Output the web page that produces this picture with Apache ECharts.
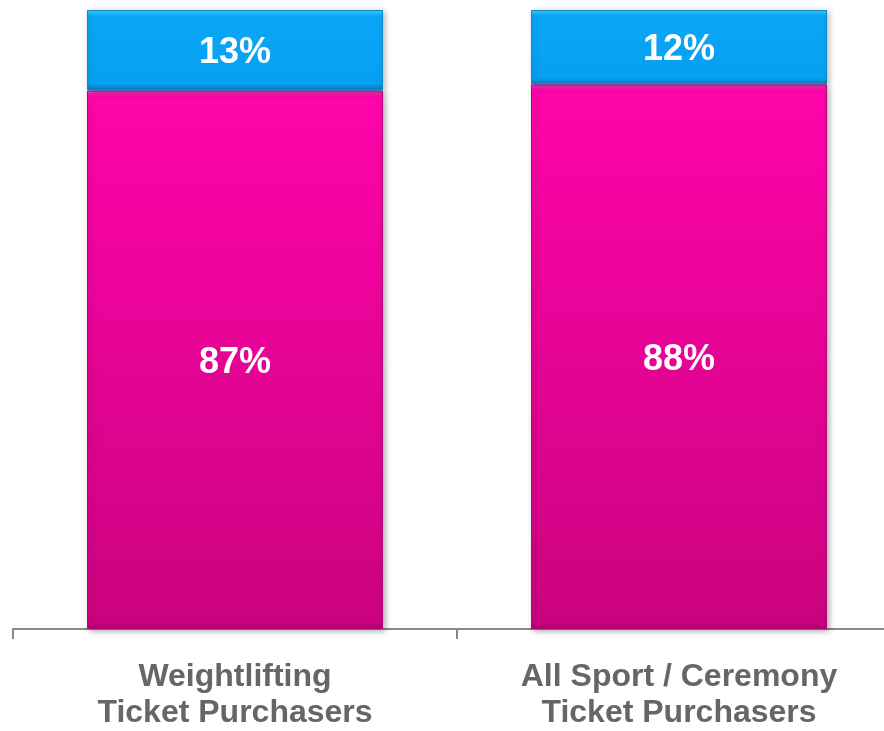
<!DOCTYPE html>
<html>
<head>
<meta charset="utf-8">
<script src="https://cdn.jsdelivr.net/npm/echarts@6/dist/echarts.min.js"></script>
<style>
  html, body { margin: 0; padding: 0; background: #fff; overflow: hidden; }
  /* canvas runs past the right edge so the axis continues off-page */
  #chart { width: 901px; height: 731px; }
</style>
</head>
<body>
<div id="chart"></div>
<script>
// Categories and shares (percent) for each group
const categories = ['Weightlifting\nTicket Purchasers', 'All Sport / Ceremony\nTicket Purchasers'];
const bottomShare = [87, 88];
const topShare = [13, 12];

const chart = echarts.init(document.getElementById('chart'));

// vertical gradient with bright top edge and darker bottom edge (bevel look)
function bevel(edgeLight, top, bottom, edgeDark, edge) {
  return {
    type: 'linear', x: 0, y: 0, x2: 0, y2: 1,
    colorStops: [
      { offset: 0, color: edgeLight },
      { offset: edge, color: top },
      { offset: 1 - edge, color: bottom },
      { offset: 1, color: edgeDark }
    ]
  };
}

const labelStyle = {
  show: true,
  position: 'inside',
  offset: [0, 3],
  color: '#ffffff',
  fontFamily: 'Liberation Sans, Arial, sans-serif',
  fontWeight: 'bold',
  fontSize: 36,
  formatter: p => p.value + '%'
};

chart.setOption({
  animation: false,
  grid: { left: 13, right: 0, top: 10, bottom: 98, containLabel: false },
  xAxis: {
    type: 'category',
    data: categories,
    axisLine: { show: true, lineStyle: { color: '#888888', width: 2 } },
    axisTick: { show: true, length: 10, lineStyle: { color: '#888888', width: 2 } },
    axisLabel: {
      color: '#666666',
      fontFamily: 'Liberation Sans, Arial, sans-serif',
      fontWeight: 'bold',
      fontSize: 32,
      lineHeight: 36,
      margin: 30
    }
  },
  yAxis: {
    type: 'value',
    min: 0,
    max: 100,
    show: false,
    splitLine: { show: false }
  },
  series: [
    {
      name: 'Bottom',
      type: 'bar',
      stack: 'total',
      barWidth: 296,
      data: bottomShare,
      label: labelStyle,
      itemStyle: {
        color: bevel('#ff3cc4', '#ff04aa', '#cb037f', '#a8026a', 0.012),
        borderColor: '#b8047a',
        borderWidth: 1,
        shadowColor: 'rgba(0,0,0,0.3)',
        shadowBlur: 6,
        shadowOffsetX: 2,
        shadowOffsetY: 2
      }
    },
    {
      name: 'Top',
      type: 'bar',
      stack: 'total',
      barWidth: 296,
      data: topShare,
      label: labelStyle,
      itemStyle: {
        color: bevel('#3ad0ff', '#0aa6f6', '#07a0f0', '#0678b8', 0.08),
        borderColor: '#0a88cc',
        borderWidth: 1,
        shadowColor: 'rgba(0,0,0,0.25)',
        shadowBlur: 6,
        shadowOffsetX: 2,
        shadowOffsetY: 1
      }
    }
  ]
});
</script>
</body>
</html>
